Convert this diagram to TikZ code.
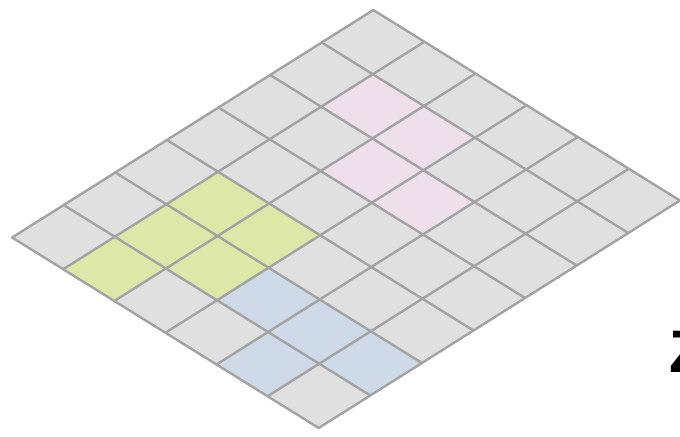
\documentclass[tikz,border=0pt]{standalone}
\usepackage{fontspec}
\setmainfont{Liberation Sans}
\usepackage{xcolor}
\usepackage{tikz}
\usetikzlibrary{calc}

\definecolor{cellgray}{RGB}{224,224,224}
\definecolor{linegray}{RGB}{163,163,163}
\definecolor{cellgreen}{RGB}{221,231,168}
\definecolor{cellblue}{RGB}{206,218,231}
\definecolor{cellpink}{RGB}{238,223,235}

\begin{document}
\begin{tikzpicture}[
    x=0.5pt, y=-0.5pt,
    gridline/.style={draw=linegray, line width=1.2pt, line cap=round},
    border/.style={draw=linegray, line width=1.2pt, line join=round},
    greencell/.style={fill=cellgreen},
    bluecell/.style={fill=cellblue},
    pinkcell/.style={fill=cellpink},
    axislabel/.style={inner sep=0pt, font=\fontsize{30}{32}\selectfont\bfseries, text=black}
]
    \useasboundingbox (0,0) rectangle (680,437);
    \clip (0,0) rectangle (680,437);

    % Axis label (cut by the right edge)
    \node[axislabel, anchor=base west] (zaxis) at (669,373) {Z};

    % Plane in cell units: x runs down-left (7 cells), y runs down-right (6 cells)
    \begin{scope}[shift={(373.3,10)}, x={(-25.8pt,-16.25pt)}, y={(25.55pt,-15.875pt)}]
        \coordinate (top) at (0,0);
        \coordinate (left) at (7,0);
        \coordinate (bottom) at (7,6);
        \coordinate (right) at (0,6);

        % Base plane
        \fill[cellgray] (top) -- (left) -- (bottom) -- (right) -- cycle;

        % Coloured cells
        \foreach \i/\j in {4/1, 5/1, 6/1, 4/2, 5/2}
            \fill[greencell] (\i,\j) -- ++(1,0) -- ++(0,1) -- ++(-1,0) -- cycle;
        \foreach \i/\j in {5/3, 5/4, 6/4, 5/5}
            \fill[bluecell] (\i,\j) -- ++(1,0) -- ++(0,1) -- ++(-1,0) -- cycle;
        \foreach \i/\j in {1/1, 1/2, 2/2, 2/3}
            \fill[pinkcell] (\i,\j) -- ++(1,0) -- ++(0,1) -- ++(-1,0) -- cycle;

        % Grid lines
        \foreach \i in {1,...,6}
            \draw[gridline] (\i,0) -- (\i,6);
        \foreach \j in {1,...,5}
            \draw[gridline] (0,\j) -- (7,\j);

        % Outline
        \draw[border] (top) -- (left) -- (bottom) -- (right) -- cycle;
    \end{scope}

\end{tikzpicture}
\end{document}
